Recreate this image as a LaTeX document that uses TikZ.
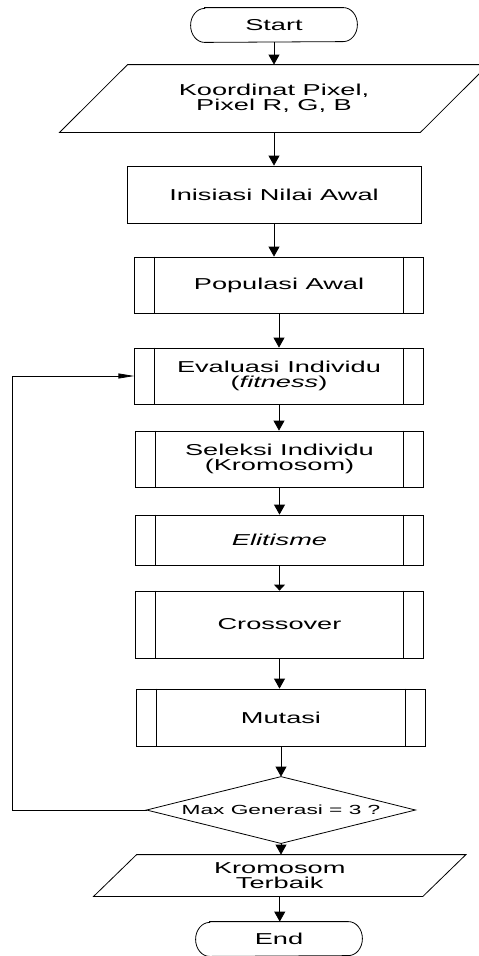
\documentclass[tikz,border=0pt]{standalone}
\usepackage{fontspec}
\setmainfont{Liberation Sans}[FakeStretch=1.72]
\usetikzlibrary{arrows.meta,calc}

\newcommand\boxfont{\fontsize{15.8}{15}\selectfont}
\newcommand\decfont{\fontsize{13.2}{14}\selectfont}

\begin{document}
\begin{tikzpicture}[x=1pt,y=-1pt,line width=0.8pt,
  every node/.style={inner sep=0pt,align=center,font=\boxfont},
  termbox/.style={minimum width=166pt,minimum height=34pt},
  procbox/.style={draw,rectangle,minimum width=294pt},
  subbox/.style={draw,rectangle,minimum width=288.5pt},
  arr/.style={-{Triangle[width=11pt,length=10pt]}},
  arrshort/.style={-{Triangle[width=11pt,length=6pt]}},
  looparr/.style={-{Triangle[width=5pt,length=16pt]}}]
\useasboundingbox (0,0) rectangle (479,956);

% flow steps
\node[termbox] (start) at (274,25) {Start};
\node[minimum width=360pt,minimum height=67pt] (inp) at (274,98.5) {Koordinat Pixel,\\Pixel R, G, B};
\node[procbox,minimum height=57pt] (init) at (274,194.5) {Inisiasi Nilai Awal};
\node[subbox,minimum height=56pt] (pop) at (279,285) {Populasi Awal};
\node[subbox,minimum height=56pt] (eval) at (279,376) {Evaluasi Individu\\(\textit{fitness})};
\node[subbox,minimum height=56pt] (sel) at (279.5,459) {Seleksi Individu\\(Kromosom)};
\node[subbox,minimum height=50pt] (elit) at (279.5,540) {\textit{Elitisme}};
\node[subbox,minimum height=67pt] (cross) at (279.5,624.5) {Crossover};
\node[subbox,minimum height=57pt] (mut) at (281,717.5) {Mutasi};
\node[minimum width=268pt,minimum height=66pt,font=\decfont] (dec) at (281,810) {Max Generasi = 3 ?};
\node[minimum width=328.5pt,minimum height=41pt] (out) at (279.75,875.5) {Kromosom\\Terbaik};
\node[termbox] (stop) at (279,939) {End};

% terminator outlines
\foreach \n in {start,stop}
  \draw ([xshift=14pt]\n.north west) -- ([xshift=-14pt]\n.north east)
    arc[start angle=-90,end angle=90,x radius=14,y radius=17]
    -- ([xshift=14pt]\n.south west)
    arc[start angle=90,end angle=270,x radius=14,y radius=17] -- cycle;

% input / output parallelograms
\draw ([xshift=-34pt]inp.south west) -- ([xshift=34pt]inp.north west)
  -- ([xshift=34pt]inp.north east) -- ([xshift=-34pt]inp.south east) -- cycle;
\draw ([xshift=-21.5pt]out.south west) -- ([xshift=21.5pt]out.north west)
  -- ([xshift=21.5pt]out.north east) -- ([xshift=-21.5pt]out.south east) -- cycle;

% predefined-process side bars
\foreach \n in {pop,eval,sel,elit,cross,mut}
  \draw ([xshift=20.5pt]\n.north west) -- ([xshift=20.5pt]\n.south west)
        ([xshift=-20.5pt]\n.north east) -- ([xshift=-20.5pt]\n.south east);

% decision diamond
\draw (dec.north) -- (dec.east) -- (dec.south) -- (dec.west) -- cycle;

% connectors
\draw[arr] (start.south) -- (inp.north);
\draw[arr] (inp.south) -- (init.north);
\draw[arr] (init.south) -- (init.south |- pop.north);
\draw[arr] (pop.south) -- (eval.north);
\draw[arr] (eval.south) -- (eval.south |- sel.north);
\draw[arr] (sel.south) -- (sel.south |- elit.north);
\draw[arrshort] (elit.south) -- (elit.south |- cross.north);
\draw[arr] (cross.south) -- (cross.south |- mut.north);
\draw[arr] (mut.south) -- (dec.north);
\draw[arr] (dec.south) -- (dec.south |- out.north);
\draw[arr] (out.south) -- (out.south |- stop.north);
\coordinate (loop) at (12,810);
\draw[looparr] (dec.west) -- (loop) |- (eval.west);
\end{tikzpicture}
\end{document}
